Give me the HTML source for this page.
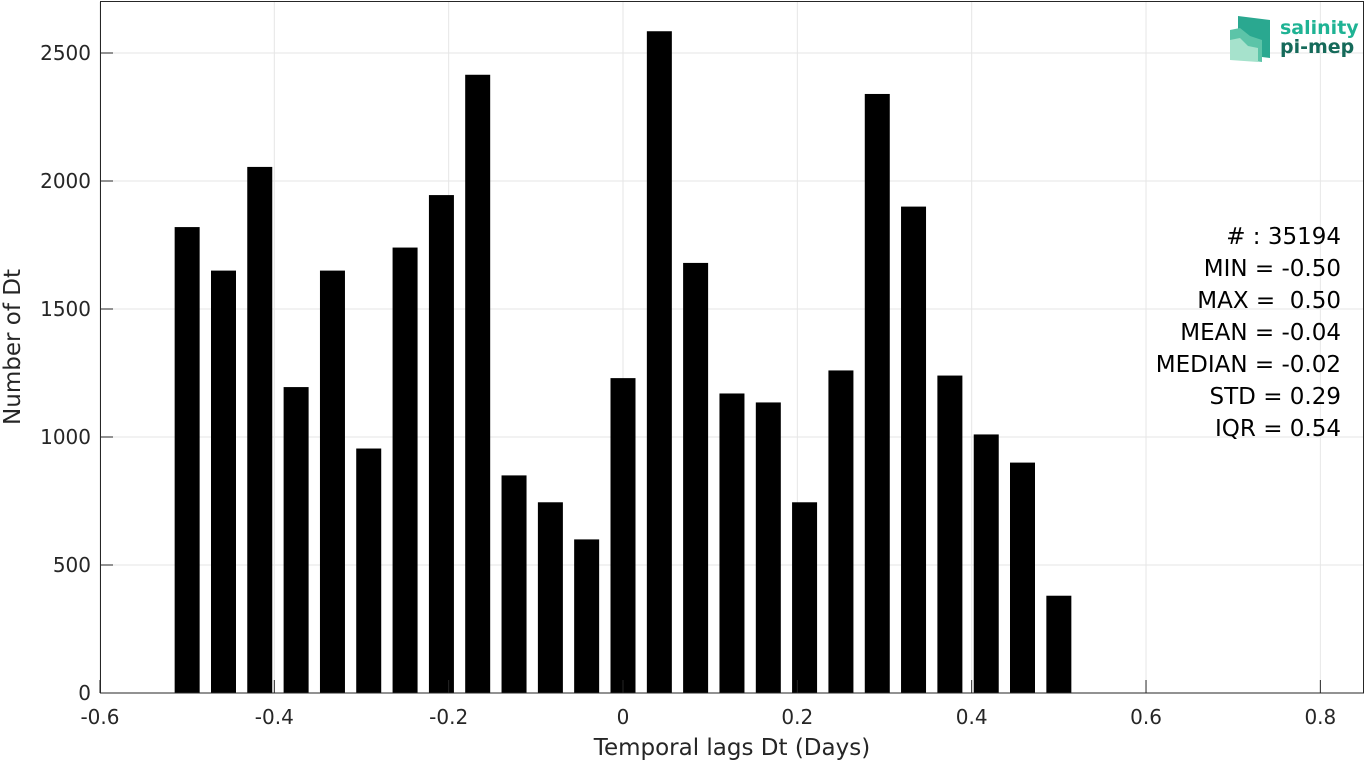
<!DOCTYPE html>
<html><head><meta charset="utf-8"><style>
body{margin:0;background:#fff;width:1365px;height:763px;overflow:hidden;font-family:"Liberation Sans","DejaVu Sans",sans-serif}
</style></head><body>
<svg id="chart" width="1365" height="763" xmlns="http://www.w3.org/2000/svg" style="font-family:'DejaVu Sans','Liberation Sans',sans-serif">
<g id="grid"></g>
<g id="bars"></g>
<rect x="100.5" y="1.5" width="1263" height="691.5" fill="none" stroke="#262626" stroke-width="1"/>
<g id="ticks"></g>
<text x="732" y="755" font-size="23" text-anchor="middle" fill="#262626">Temporal lags Dt (Days)</text>
<text transform="translate(20,347) rotate(-90)" font-size="23" text-anchor="middle" fill="#262626">Number of Dt</text>
<g font-size="23" text-anchor="end" fill="#000">
<text x="1341" y="244">#&#160;: 35194</text>
<text x="1341" y="276">MIN = -0.50</text>
<text x="1341" y="308" xml:space="preserve">MAX =  0.50</text>
<text x="1341" y="340">MEAN = -0.04</text>
<text x="1341" y="372">MEDIAN = -0.02</text>
<text x="1341" y="404">STD = 0.29</text>
<text x="1341" y="436">IQR = 0.54</text>
</g>
<g>
<polygon points="1238,16 1270,20 1270,58 1238,54" fill="#2aa890"/>
<polygon points="1230,30 1240,28 1250,36 1262,40 1262,62 1230,58" fill="#5cc4a8"/>
<polygon points="1230,40 1240,38 1248,46 1258,48 1258,62 1230,60" fill="#a6e2cc"/>
<text x="1280" y="34" font-size="19" font-weight="bold" fill="#1fb394">salinity</text>
<text x="1280" y="53" font-size="19" font-weight="bold" fill="#156a5a">pi-mep</text>
</g>
</svg>
<script>
const categories=[-0.5,-0.4583,-0.4167,-0.375,-0.3333,-0.2917,-0.25,-0.2083,-0.1667,-0.125,-0.0833,-0.0417,0,0.0417,0.0833,0.125,0.1667,0.2083,0.25,0.2917,0.3333,0.375,0.4167,0.4583,0.5];
const counts=[1820,1650,2055,1195,1650,955,1740,1945,2415,850,745,600,1230,2585,1680,1170,1135,745,1260,2340,1900,1240,1010,900,380];
const xTicks=[-0.6,-0.4,-0.2,0,0.2,0.4,0.6,0.8];
const xTickLabels=["-0.6","-0.4","-0.2","0","0.2","0.4","0.6","0.8"];
const yTicks=[0,500,1000,1500,2000,2500];
const yTickLabels=["0","500","1000","1500","2000","2500"];
const NS="http://www.w3.org/2000/svg";
const X=v=>623+(v)*871.7;
const Y=v=>693-v*0.256;
function mk(t,a,p){const e=document.createElementNS(NS,t);for(const k in a)e.setAttribute(k,a[k]);p.appendChild(e);return e;}
const grid=document.getElementById('grid'),bars=document.getElementById('bars'),ticks=document.getElementById('ticks');
xTicks.forEach((v,i)=>{
 const l=mk('line',{x1:X(v),x2:X(v),y1:2,y2:693,stroke:'#e6e6e6'},grid);
 
 
 const tk=mk('line',{x1:X(v),x2:X(v),y1:693,y2:680,stroke:'#262626'},ticks);
 
 
 const t=mk('text',{x:X(v),y:724,'font-size':20,'text-anchor':'middle',fill:'#262626'},ticks);
 t.textContent=xTickLabels[i];
 
 
});
yTicks.forEach((v,i)=>{
 const l=mk('line',{x1:100,x2:1364,y1:Y(v),y2:Y(v),stroke:'#e6e6e6'},grid);
 
 
 const tk=mk('line',{x1:100,x2:113,y1:Y(v),y2:Y(v),stroke:'#262626'},ticks);
 
 
 const t=mk('text',{x:91,y:Y(v)+7,'font-size':20,'text-anchor':'end',fill:'#262626'},ticks);
 t.textContent=yTickLabels[i];
 
 
});
categories.forEach((c,i)=>{
 const w=25;
 const r=mk('rect',{x:X(c)-w/2,y:Y(counts[i]),width:w,height:Y(0)-Y(counts[i]),fill:'#000'},bars);
 
 
});
</script>
</body></html>
